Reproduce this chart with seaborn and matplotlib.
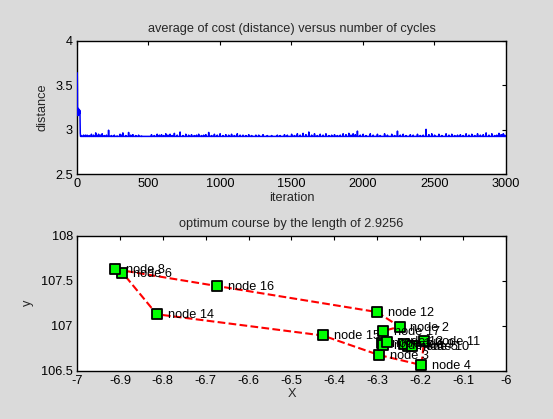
import numpy as np
import pandas as pd
import matplotlib
matplotlib.use("Agg")
import matplotlib.pyplot as plt
import seaborn as sns

# ---------------- data ----------------
n_iter = 3000
best_length = 2.9256
early_values = [3.64, 3.60, 3.45, 3.16, 3.24, 3.18, 3.22, 3.16, 3.24, 3.20, 3.17,
                3.22, 3.19, 3.23, 3.17, 3.21, 3.20, 3.18, 3.22, 3.20, 3.19, 3.05,
                2.96, 2.94]
spike_iters = [45, 70, 100, 130, 150, 175, 220, 260, 300, 320, 360, 390, 430,
               520, 560, 590, 620, 650, 680, 720, 760, 800, 850, 900, 920, 960,
               1000, 1040, 1080, 1120, 1160, 1200, 1250, 1300, 1400, 1450, 1500,
               1540, 1580, 1620, 1660, 1700, 1740, 1800, 1860, 1900, 1930, 1960,
               2000, 2050, 2100, 2150, 2200, 2240, 2280, 2330, 2380, 2440, 2480,
               2530, 2580, 2620, 2680, 2720, 2760, 2800, 2860, 2900, 2950, 2980]
spike_vals = [2.94, 2.94, 2.95, 2.965, 2.95, 2.955, 2.995, 2.94, 2.95, 2.965,
              2.97, 2.945, 2.94, 2.945, 2.95, 2.945, 2.955, 2.95, 2.96, 2.975,
              2.95, 2.945, 2.95, 2.945, 2.97, 2.95, 2.955, 2.945, 2.95, 2.955,
              2.94, 2.945, 2.94, 2.945, 2.94, 2.945, 2.95, 2.955, 2.96, 2.975,
              2.955, 2.95, 2.955, 2.945, 2.955, 2.96, 2.955, 2.985, 2.95, 2.955,
              2.95, 2.955, 2.95, 2.985, 2.95, 2.945, 2.95, 3.005, 2.955, 2.95,
              2.955, 2.95, 2.945, 2.955, 2.95, 2.955, 2.965, 2.955, 2.96, 2.955]
minor_iters = [30, 58, 85, 115, 140, 162, 190, 205, 240, 280, 310, 340, 375, 410,
               450, 540, 575, 605, 635, 665, 700, 740, 780, 820, 835, 870, 885,
               940, 980, 1020, 1060, 1100, 1140, 1180, 1220, 1270, 1330, 1360,
               1420, 1470, 1520, 1560, 1600, 1640, 1680, 1720, 1760, 1780, 1820,
               1840, 1880, 1915, 1945, 1980, 2020, 2070, 2120, 2170, 2220, 2260,
               2300, 2350, 2400, 2420, 2460, 2500, 2550, 2600, 2640, 2660, 2700,
               2740, 2780, 2820, 2840, 2880, 2920, 2935, 2965, 2990]
minor_vals = [2.935, 2.94, 2.935, 2.94, 2.935, 2.94, 2.935, 2.94, 2.935, 2.93,
              2.94, 2.935, 2.94, 2.935, 2.93, 2.935, 2.94, 2.935, 2.94, 2.935,
              2.94, 2.935, 2.94, 2.935, 2.94, 2.935, 2.94, 2.935, 2.94, 2.935,
              2.94, 2.935, 2.94, 2.935, 2.935, 2.94, 2.935, 2.935, 2.935, 2.94,
              2.935, 2.94, 2.945, 2.94, 2.935, 2.94, 2.935, 2.94, 2.935, 2.94,
              2.945, 2.94, 2.945, 2.94, 2.935, 2.94, 2.935, 2.94, 2.935, 2.94,
              2.935, 2.94, 2.935, 2.94, 2.945, 2.94, 2.935, 2.94, 2.935, 2.94,
              2.935, 2.94, 2.935, 2.94, 2.945, 2.94, 2.935, 2.94, 2.945, 2.94]

node_names = ["node 1", "node 2", "node 3", "node 4", "node 5", "node 6", "node 7",
              "node 8", "node 9", "node 10", "node 11", "node 12", "node 13",
              "node 14", "node 15", "node 16", "node 17"]
node_x = [-6.290, -6.248, -6.296, -6.197, -6.228, -6.894, -6.287, -6.911, -6.238,
          -6.219, -6.191, -6.301, -6.278, -6.814, -6.427, -6.674, -6.286]
node_y = [106.804, 106.989, 106.674, 106.563, 106.778, 107.589, 106.786, 107.627,
          106.797, 106.774, 106.833, 107.152, 106.824, 107.127, 106.891, 107.441,
          106.941]
tour = [8, 16, 12, 2, 17, 13, 1, 7, 9, 5, 10, 11, 4, 3, 15, 14, 6, 8]

# ------------- build tables -------------
dist = np.full(n_iter, best_length)
dist[:len(early_values)] = early_values
for it, v in zip(minor_iters, minor_vals):
    dist[it] = v
for it, v in zip(spike_iters, spike_vals):
    dist[it] = v
conv = pd.DataFrame({"iteration": np.arange(1, n_iter + 1), "distance": dist})

nodes = pd.DataFrame({"name": node_names, "X": node_x, "y": node_y})
route = nodes.iloc[[t - 1 for t in tour]].reset_index(drop=True)

# ------------- style -------------
sns.set_style("white")
plt.rcParams["font.family"] = ["Liberation Sans", "DejaVu Sans"]
fs = 9.2
plt.rcParams["font.size"] = fs
bg = "#dadada"

fig = plt.figure(figsize=(5.53, 4.19), dpi=100, facecolor=bg)
ax1 = fig.add_axes([0.1392, 0.584, 0.7758, 0.3189])
ax2 = fig.add_axes([0.1392, 0.1153, 0.7758, 0.3222])

def matlab_axes(ax):
    ax.set_facecolor("white")
    for s in ax.spines.values():
        s.set_color("black")
        s.set_linewidth(1.0)
        s.set_visible(True)
    ax.tick_params(direction="in", length=3, width=0.8, top=True, right=True,
                   labelsize=fs, colors="black", pad=3)

# top: convergence
sns.lineplot(data=conv, x="iteration", y="distance", color="#0000ff",
             linewidth=1.1, ax=ax1, estimator=None, zorder=3)
ax1.set_xlim(0, 3000)
ax1.set_ylim(2.5, 4)
ax1.set_xticks([0, 500, 1000, 1500, 2000, 2500, 3000])
ax1.set_yticks([2.5, 3, 3.5, 4])
ax1.set_yticklabels(["2.5", "3", "3.5", "4"])
ax1.set_xlabel("iteration", fontsize=fs, labelpad=1)
ax1.set_ylabel("distance", fontsize=fs, labelpad=5)
ax1.set_title("average of cost (distance) versus number of cycles", fontsize=fs, pad=6)
matlab_axes(ax1)

# bottom: route
sns.lineplot(data=route, x="X", y="y", sort=False, estimator=None, color="red",
             linestyle="--", linewidth=1.5, ax=ax2, zorder=2)
sns.scatterplot(data=nodes, x="X", y="y", marker="s", s=55, color="#00ff00",
                edgecolor="black", linewidth=1.3, ax=ax2, zorder=3)
for nm, xv, yv in zip(node_names, node_x, node_y):
    ax2.text(xv + 0.025, yv - 0.01, nm, fontsize=fs, va="center", ha="left",
             zorder=4, color="black")
ax2.set_xlim(-7, -6)
ax2.set_ylim(106.5, 108)
ax2.set_xticks(np.round(np.arange(-7, -5.95, 0.1), 1))
ax2.set_xticklabels(["-7", "-6.9", "-6.8", "-6.7", "-6.6", "-6.5", "-6.4", "-6.3",
                     "-6.2", "-6.1", "-6"])
ax2.set_yticks([106.5, 107, 107.5, 108])
ax2.set_yticklabels(["106.5", "107", "107.5", "108"])
ax2.set_xlabel("X", fontsize=fs, labelpad=1)
ax2.set_ylabel("y", fontsize=fs, labelpad=5)
ax2.set_title("optimum course by the length of 2.9256", fontsize=fs, pad=6)
matlab_axes(ax2)

fig.savefig("out.png", dpi=100, facecolor=bg)
